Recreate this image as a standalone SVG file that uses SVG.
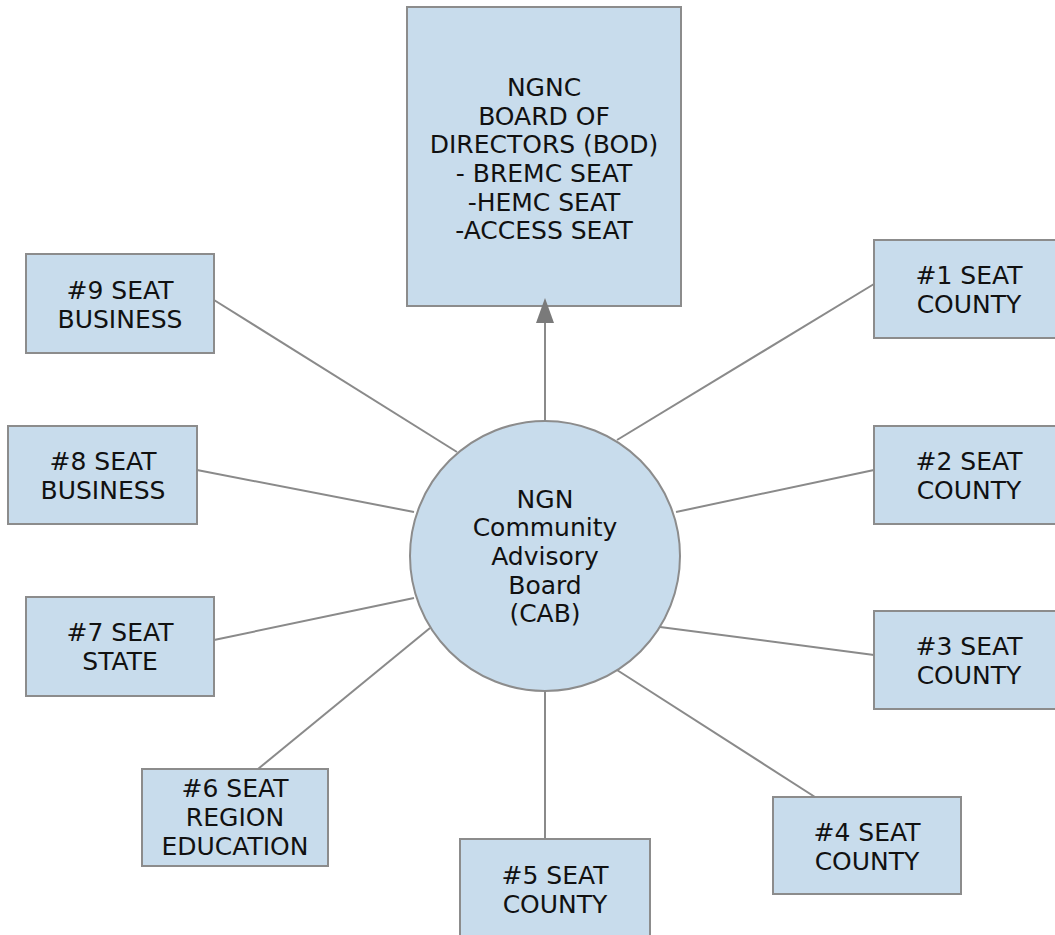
<svg xmlns="http://www.w3.org/2000/svg" width="1055" height="935" viewBox="0 0 1055 935">
<defs>
<style>
.box{fill:#c8dcec;stroke:#8c8c8c;stroke-width:2}
.t{font-family:"DejaVu Sans",Verdana,sans-serif;font-size:25px;fill:#111;text-anchor:middle;dominant-baseline:central}
.c{stroke:#8a8a8a;stroke-width:2;fill:none}
</style>
</defs>
<rect width="1055" height="935" fill="#ffffff"/>
<g id="bod">
<rect class="box" x="407" y="7" width="274" height="299"/>
<text class="t" x="544" y="87">NGNC</text>
<text class="t" x="544" y="116">BOARD OF</text>
<text class="t" x="544" y="144">DIRECTORS (BOD)</text>
<text class="t" x="544" y="173">- BREMC SEAT</text>
<text class="t" x="544" y="202">-HEMC SEAT</text>
<text class="t" x="544" y="230">-ACCESS SEAT</text>
</g>
<g id="cab">
<circle class="box" cx="545" cy="556" r="135"/>
<text class="t" x="545" y="499">NGN</text>
<text class="t" x="545" y="527">Community</text>
<text class="t" x="545" y="556">Advisory</text>
<text class="t" x="545" y="585">Board</text>
<text class="t" x="545" y="613">(CAB)</text>
</g>
<g id="seat9">
<rect class="box" x="26" y="254" width="188" height="99"/>
<text class="t" x="120" y="290">#9 SEAT</text>
<text class="t" x="120" y="319">BUSINESS</text>
</g>
<g id="seat8">
<rect class="box" x="8" y="426" width="189" height="98"/>
<text class="t" x="103" y="461">#8 SEAT</text>
<text class="t" x="103" y="490">BUSINESS</text>
</g>
<g id="seat7">
<rect class="box" x="26" y="597" width="188" height="99"/>
<text class="t" x="120" y="632">#7 SEAT</text>
<text class="t" x="120" y="661">STATE</text>
</g>
<g id="seat6">
<rect class="box" x="142" y="769" width="186" height="97"/>
<text class="t" x="235" y="788">#6 SEAT</text>
<text class="t" x="235" y="817">REGION</text>
<text class="t" x="235" y="846">EDUCATION</text>
</g>
<g id="seat5">
<rect class="box" x="460" y="839" width="190" height="105"/>
<text class="t" x="555" y="875">#5 SEAT</text>
<text class="t" x="555" y="904">COUNTY</text>
</g>
<g id="seat4">
<rect class="box" x="773" y="797" width="188" height="97"/>
<text class="t" x="867" y="832">#4 SEAT</text>
<text class="t" x="867" y="861">COUNTY</text>
</g>
<g id="seat3">
<rect class="box" x="874" y="611" width="190" height="98"/>
<text class="t" x="969" y="646">#3 SEAT</text>
<text class="t" x="969" y="675">COUNTY</text>
</g>
<g id="seat2">
<rect class="box" x="874" y="426" width="190" height="98"/>
<text class="t" x="969" y="461">#2 SEAT</text>
<text class="t" x="969" y="490">COUNTY</text>
</g>
<g id="seat1">
<rect class="box" x="874" y="240" width="190" height="98"/>
<text class="t" x="969" y="275">#1 SEAT</text>
<text class="t" x="969" y="304">COUNTY</text>
</g>
<g id="connectors">
<line class="c" x1="545" y1="421" x2="545" y2="318"/>
<path d="M536,323 L545,298 L554,323 z" fill="#7a7a7a"/>
<line class="c" x1="214" y1="300" x2="457" y2="452"/>
<line class="c" x1="197" y1="470" x2="414" y2="512"/>
<line class="c" x1="214" y1="640" x2="414" y2="598"/>
<line class="c" x1="258" y1="769" x2="430" y2="628"/>
<line class="c" x1="545" y1="839" x2="545" y2="691"/>
<line class="c" x1="815" y1="797" x2="617" y2="670"/>
<line class="c" x1="874" y1="655" x2="660" y2="627"/>
<line class="c" x1="874" y1="470" x2="676" y2="512"/>
<line class="c" x1="874" y1="284" x2="617" y2="440"/>
</g>
</svg>
